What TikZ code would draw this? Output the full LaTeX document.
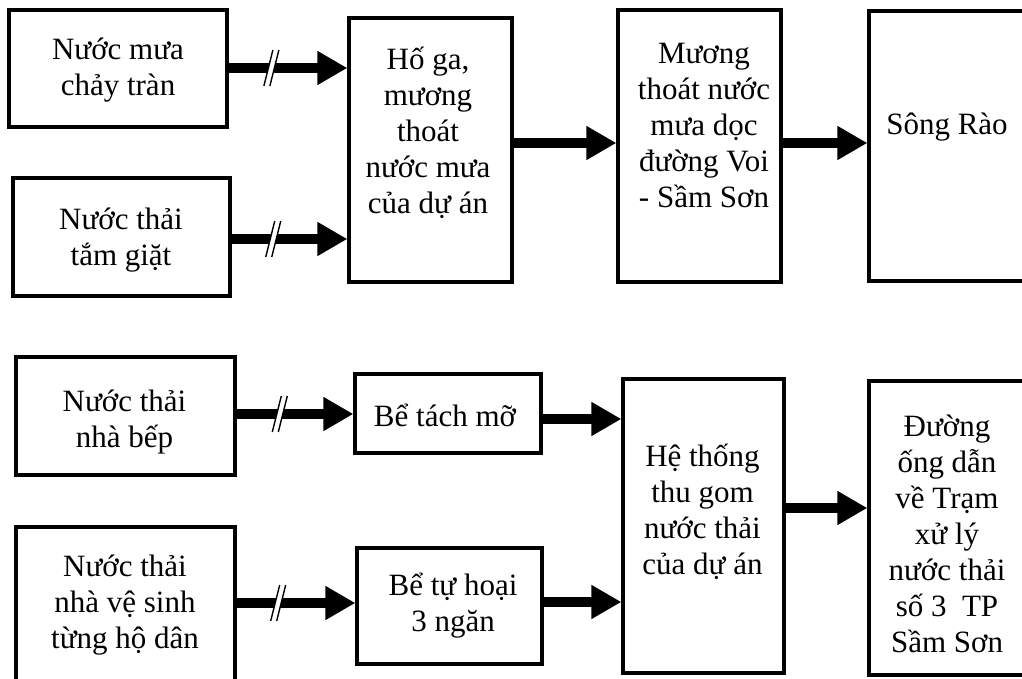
\documentclass[tikz,border=0pt]{standalone}
\usepackage{fontspec}
\setmainfont{Liberation Serif}
\usetikzlibrary{arrows.meta,calc}
\tikzset{
  box/.style={draw, line width=3.2pt, inner sep=0pt, fill=white},
  txt/.style={align=center, inner sep=0pt, font=\fontsize{31}{36}\selectfont},
  flow/.style={line width=10pt, -{Triangle[length=30pt,width=32pt]}},
  brk/.pic={
    \fill[white] (-7.5,18) -- (1.5,-18) -- (7.5,-18) -- (-1.5,18) -- cycle;
    \draw[line width=1.4pt] (-7.5,18) -- (1.5,-18) (-1.5,18) -- (7.5,-18);
  }
}
\begin{document}
\begin{tikzpicture}[x=1pt,y=-1pt]
\useasboundingbox (0,0) rectangle (1022,679);
\clip (0,0) rectangle (1022,679);
\fill[white] (0,0) rectangle (1022,679);
% boxes
\node[box, minimum width=218pt, minimum height=117pt] (b1) at (118,68.5) {};
\node[box, minimum width=217pt, minimum height=118pt] (b2) at (121.4,237) {};
\node[box, minimum width=163pt, minimum height=264pt] (b3) at (430.5,150) {};
\node[box, minimum width=163pt, minimum height=272pt] (b4) at (699.5,146) {};
\node[box, minimum width=157pt, minimum height=270pt] (b5) at (947.5,146) {};
\node[box, minimum width=219pt, minimum height=118pt] (b6) at (125.5,416) {};
\node[box, minimum width=219pt, minimum height=173pt] (b7) at (125.5,613.5) {};
\node[box, minimum width=186pt, minimum height=79pt] (b8) at (448,413.5) {};
\node[box, minimum width=185pt, minimum height=116pt] (b9) at (449.5,606) {};
\node[box, minimum width=161pt, minimum height=294pt] (b10) at (703.5,526) {};
\node[box, minimum width=157pt, minimum height=294pt] (b11) at (947.5,528) {};
% texts
\node[txt] (t1) at (118,70.5) {Nước mưa\\chảy tràn};
\node[txt] (t2) at (121,240) {Nước thải\\tắm giặt};
\node[txt] (t3) at (428,132.6) {Hố ga,\\mương\\thoát\\nước mưa\\của dự án};
\node[txt] (t4) at (704,125.5) {Mương\\thoát nước\\mưa dọc\\đường Voi\\- Sầm Sơn};
\node[txt] (t5) at (947,127) {Sông Rào};
\node[txt] (t6) at (124.5,422.5) {Nước thải\\nhà bếp};
\node[txt] (t7) at (125,605) {Nước thải\\nhà vệ sinh\\từng hộ dân};
\node[txt] (t8) at (445,415) {Bể tách mỡ};
\node[txt] (t9) at (453,605.5) {Bể tự hoại\\3 ngăn};
\node[txt] (t10) at (702.5,512) {Hệ thống\\thu gom\\nước thải\\của dự án};
\node[txt] (t11) at (947,533.5) {Đường\\ống dẫn\\về Trạm\\xử lý\\nước thải\\số 3 \ TP\\Sầm Sơn};
% connectors
\draw[flow] (b1.east |- 0,68) -- (b3.west |- 0,68);
\draw[flow] (b2.east |- 0,239) -- (b3.west |- 0,239);
\draw[flow] (b3.east |- 0,143) -- (b4.west |- 0,143);
\draw[flow] (b4.east |- 0,143) -- (b5.west |- 0,143);
\draw[flow] (b6.east |- 0,414) -- (b8.west |- 0,414);
\draw[flow] (b7.east |- 0,603) -- (b9.west |- 0,603);
\draw[flow] (b8.east |- 0,419) -- (b10.west |- 0,419);
\draw[flow] (b9.east |- 0,602) -- (b10.west |- 0,602);
\draw[flow] (b10.east |- 0,508) -- (b11.west |- 0,508);
% break marks
\pic at ($(b1.east |- 0,68)!0.36!(b3.west |- 0,68)$) {brk};
\pic at ($(b2.east |- 0,239)!0.36!(b3.west |- 0,239)$) {brk};
\pic at ($(b6.east |- 0,414)!0.37!(b8.west |- 0,414)$) {brk};
\pic at ($(b7.east |- 0,603)!0.35!(b9.west |- 0,603)$) {brk};
\end{tikzpicture}
\end{document}
